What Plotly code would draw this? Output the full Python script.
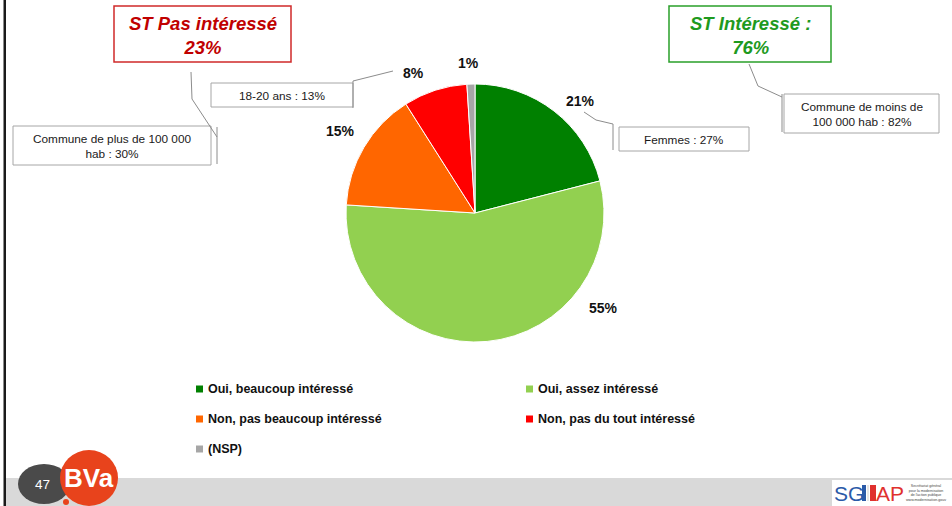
import plotly.graph_objects as go

# ---------------- data ----------------
categories = ["Oui, beaucoup intéressé", "Oui, assez intéressé",
              "Non, pas beaucoup intéressé", "Non, pas du tout intéressé", "(NSP)"]
values = [21, 55, 15, 8, 1]
colors = ["#008000", "#92D050", "#FF6600", "#FF0000", "#A6A6A6"]

summary_titles = ["ST Pas intéressé", "ST Intéressé :"]
summary_values = [23, 76]
summary_colors = ["#C00000", "#1E9A1E"]

subgroup_notes = ["18-20 ans : 13%", "Commune de plus de 100 000<br>hab : 30%",
                  "Femmes : 27%", "Commune de moins de<br>100 000 hab : 82%"]
page_number = "47"

# ---------------- layout helpers ----------------
W, H = 952, 506
FONT = "Liberation Sans, Arial, sans-serif"


def X(p):
    return p / W


def Y(p):
    return 1 - p / H


fig = go.Figure()
fig.add_trace(go.Pie(
    labels=categories, values=values, sort=False, direction="clockwise", rotation=0,
    marker=dict(colors=colors, line=dict(color="white", width=1)),
    textinfo="none", hoverinfo="label+percent", showlegend=False,
    domain=dict(x=[X(346), X(604)], y=[Y(342), Y(84)]),
))

shapes = []
annotations = []


def rect(x0, y0, x1, y1, line_color=None, fill=None, lw=1, layer="above"):
    shapes.append(dict(type="rect", xref="paper", yref="paper",
                       x0=X(x0), x1=X(x1), y0=Y(y1), y1=Y(y0),
                       line=dict(color=line_color or "rgba(0,0,0,0)", width=lw if line_color else 0),
                       fillcolor=fill or "rgba(0,0,0,0)", layer=layer))


def seg(pts, color="#8C8C8C", lw=1):
    for (a, b), (c, d) in zip(pts[:-1], pts[1:]):
        shapes.append(dict(type="line", xref="paper", yref="paper",
                           x0=X(a), y0=Y(b), x1=X(c), y1=Y(d),
                           line=dict(color=color, width=lw)))


def text(x, y, t, size, color="#1A1A1A", xanchor="center", **kw):
    annotations.append(dict(xref="paper", yref="paper", x=X(x), y=Y(y), text=t,
                            showarrow=False, xanchor=xanchor, yanchor="middle",
                            font=dict(family=FONT, size=size, color=color, **kw)))


# slide left border + footer band
rect(3.5, 0, 6, 506, fill="#1A1A1A")
rect(6, 478, 952, 506, fill="#D9D9D9", layer="below")

# percentage labels of slices
label_pos = [(580, 101), (603, 308), (340, 131), (413, 73), (468, 63)]
for v, (lx, ly) in zip(values, label_pos):
    text(lx, ly, f"<b>{v}%</b>", 14, color="#111111")

# summary boxes
sum_boxes = [(114, 6, 291, 62), (669, 6, 831, 62)]
sum_border = ["#D02A2A", "#2AA02A"]
for t, v, c, bc, (x0, y0, x1, y1) in zip(summary_titles, summary_values, summary_colors,
                                          sum_border, sum_boxes):
    rect(x0, y0, x1, y1, line_color=bc, lw=1.5, fill="white")
    text((x0 + x1) / 2, 35, f"<b><i>{t}<br>{v}%</i></b>", 18.5, color=c)

# sub-group boxes
note_boxes = [(211, 83, 353, 107), (13, 126, 211, 165), (619, 127, 749, 151), (784, 94, 939, 133)]
for t, (x0, y0, x1, y1) in zip(subgroup_notes, note_boxes):
    rect(x0, y0, x1, y1, line_color="#A6A6A6", lw=1, fill="white")
    text((x0 + x1) / 2, (y0 + y1) / 2 + 0.5, t, 11.8, color="#1A1A1A")

# leader lines
seg([(393, 71), (353, 81), (353, 108)])
seg([(191, 72), (192, 99), (217, 137)])
seg([(217, 127), (217, 164)])
seg([(584, 112), (596, 120), (613, 124), (613, 150)])
seg([(749, 64), (758, 86), (782, 97)])
seg([(782, 94), (782, 132)])

# legend (built from the categories / colours)
leg_pos = [(196, 389), (526, 389), (196, 419), (526, 419), (196, 449)]
for cat, col, (lx, ly) in zip(categories, colors, leg_pos):
    rect(lx, ly - 3.5, lx + 7, ly + 3.5, fill=col)
    text(lx + 10, ly, f"<b>{cat}</b>", 12.5, color="#111111", xanchor="left")

# BVA logo + page number
shapes.append(dict(type="circle", xref="paper", yref="paper",
                   x0=X(18), x1=X(70), y0=Y(504), y1=Y(464),
                   fillcolor="#4A4A4A", line=dict(width=0)))
shapes.append(dict(type="circle", xref="paper", yref="paper",
                   x0=X(60), x1=X(118), y0=Y(506), y1=Y(450),
                   fillcolor="#E8431C", line=dict(width=0)))
shapes.append(dict(type="circle", xref="paper", yref="paper",
                   x0=X(63), x1=X(69), y0=Y(505), y1=Y(499),
                   fillcolor="#E8431C", line=dict(width=0)))
text(42, 484, page_number, 13.5, color="white")
text(89, 478, "BVa", 26, color="white", weight="bold")

# SGMAP logo
rect(832, 480, 952, 506, fill="white")
text(849, 493, "SG", 21, color="#2B5AA8")
rect(862, 485, 866, 501, fill="#2B5AA8")
rect(867, 485, 869, 501, fill="#E6E6E6")
rect(870, 485, 876, 501, fill="#E0312E")
text(890, 493, "AP", 21, color="#E0312E", xanchor="center")
text(904, 493, "Secrétariat général<br>pour la modernisation<br>de l'action publique<br>www.modernisation.gouv",
     3.6, color="#444444", xanchor="left")

fig.update_layout(
    width=W, height=H, margin=dict(l=0, r=0, t=0, b=0),
    paper_bgcolor="white", plot_bgcolor="white",
    shapes=shapes, annotations=annotations, showlegend=False,
    font=dict(family=FONT),
)

fig.write_html("out.html", config={"displayModeBar": False},
               post_script="document.body.style.margin='0';document.body.style.overflow='hidden';")
